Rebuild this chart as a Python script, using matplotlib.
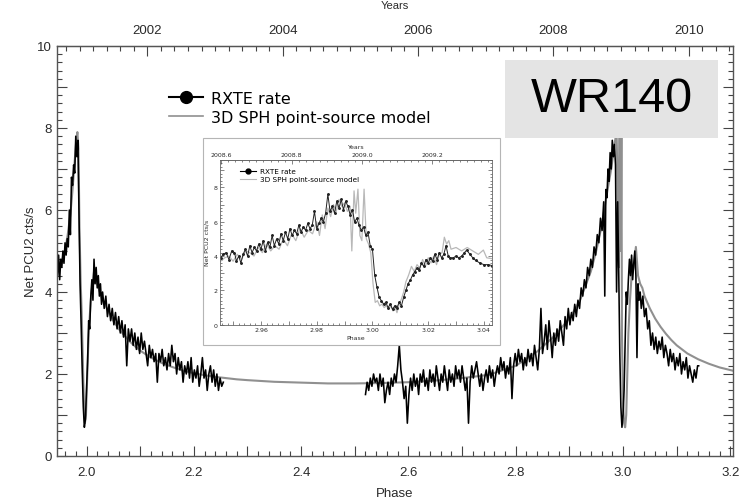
import matplotlib.pyplot as plt
import matplotlib.ticker as mticker
from matplotlib.patches import Rectangle
from matplotlib.lines import Line2D

# values
# RXTE rate, first stretch of the light curve (phase 1.95 - 2.26)
rxte_phase_a = [1.946, 1.948, 1.950, 1.952, 1.954, 1.956, 1.958, 1.960, 1.962, 1.964,
                1.966, 1.968, 1.970, 1.972, 1.974, 1.976, 1.978, 1.980, 1.982, 1.984,
                1.986, 1.988, 1.990, 1.992, 1.994, 1.996, 1.998, 2.000, 2.002, 2.004,
                2.006, 2.008, 2.010, 2.012, 2.014, 2.016, 2.018, 2.020, 2.022, 2.024,
                2.026, 2.028, 2.030, 2.033, 2.036, 2.039, 2.042, 2.045, 2.048, 2.051,
                2.054, 2.057, 2.060, 2.063, 2.066, 2.069, 2.072, 2.075, 2.078, 2.081,
                2.084, 2.087, 2.090, 2.093, 2.096, 2.099, 2.102, 2.105, 2.108, 2.111,
                2.114, 2.117, 2.120, 2.123, 2.126, 2.129, 2.132, 2.135, 2.138, 2.141,
                2.144, 2.147, 2.150, 2.153, 2.156, 2.159, 2.162, 2.165, 2.168, 2.171,
                2.174, 2.177, 2.180, 2.183, 2.186, 2.189, 2.192, 2.195, 2.198, 2.201,
                2.204, 2.207, 2.210, 2.213, 2.216, 2.219, 2.222, 2.225, 2.228, 2.231,
                2.234, 2.237, 2.240, 2.243, 2.246, 2.249, 2.252, 2.255]
rxte_rate_a = [4.4, 4.9, 4.3, 4.8, 4.6, 5.0, 4.7, 5.2, 4.9, 5.3,
               5.1, 6.0, 5.4, 6.8, 6.6, 7.1, 6.9, 7.8, 7.3, 7.7,
               5.9, 4.2, 3.2, 2.1, 1.2, 0.7, 0.9, 1.6, 2.3, 3.3,
               3.1, 3.9, 4.3, 3.8, 4.8, 4.2, 4.6, 4.1, 4.4, 3.9,
               4.2, 3.7, 4.0, 3.6, 3.9, 3.4, 3.7, 3.3, 3.6, 3.2,
               3.5, 3.1, 3.4, 3.0, 3.3, 2.9, 3.2, 2.2, 3.1, 2.8,
               3.1, 2.7, 3.0, 2.6, 2.9, 2.5, 3.0, 2.6, 2.8, 2.5,
               2.2, 2.7, 2.4, 2.6, 2.3, 2.5, 1.8, 2.5, 2.3, 2.6,
               2.2, 2.4, 2.1, 2.5, 2.2, 2.7, 2.3, 2.5, 2.0, 2.4,
               2.1, 2.3, 1.8, 2.2, 2.0, 2.3, 1.9, 2.4, 1.8, 2.1,
               1.9, 2.2, 1.7, 2.0, 2.4, 1.9, 2.1, 1.6, 2.0, 2.2,
               1.8, 2.1, 1.7, 2.0, 1.6, 1.9, 1.7, 1.8]

# RXTE rate, second stretch (phase 2.52 - 3.14)
rxte_phase_b = [2.520, 2.523, 2.526, 2.529, 2.532, 2.535, 2.538, 2.541, 2.544, 2.547,
                2.550, 2.553, 2.556, 2.559, 2.562, 2.565, 2.568, 2.571, 2.574, 2.577,
                2.580, 2.583, 2.586, 2.589, 2.592, 2.595, 2.598, 2.601, 2.604, 2.607,
                2.610, 2.613, 2.616, 2.619, 2.622, 2.625, 2.628, 2.631, 2.634, 2.637,
                2.640, 2.643, 2.646, 2.649, 2.652, 2.655, 2.658, 2.661, 2.664, 2.667,
                2.670, 2.673, 2.676, 2.679, 2.682, 2.685, 2.688, 2.691, 2.694, 2.697,
                2.700, 2.703, 2.706, 2.709, 2.712, 2.715, 2.718, 2.721, 2.724, 2.727,
                2.730, 2.733, 2.736, 2.739, 2.742, 2.745, 2.748, 2.751, 2.754, 2.757,
                2.760, 2.763, 2.766, 2.769, 2.772, 2.775, 2.778, 2.781, 2.784, 2.787,
                2.790, 2.793, 2.796, 2.799, 2.802, 2.805, 2.808, 2.811, 2.814, 2.817,
                2.820, 2.823, 2.826, 2.829, 2.832, 2.835, 2.838, 2.841, 2.844, 2.847,
                2.850, 2.853, 2.856, 2.859, 2.862, 2.865, 2.868, 2.871, 2.874, 2.877,
                2.880, 2.883, 2.886, 2.889, 2.892, 2.895, 2.898, 2.901, 2.904, 2.907,
                2.910, 2.913, 2.916, 2.919, 2.922, 2.925, 2.928, 2.931, 2.934, 2.937,
                2.940, 2.943, 2.946, 2.949, 2.952, 2.955, 2.958, 2.961, 2.964, 2.966,
                2.968, 2.970, 2.972, 2.974, 2.976, 2.978, 2.980, 2.982, 2.984, 2.986,
                2.988, 2.990, 2.992, 2.994, 2.996, 2.998, 3.000, 3.002, 3.004, 3.006,
                3.008, 3.010, 3.012, 3.014, 3.016, 3.018, 3.020, 3.022, 3.024, 3.026,
                3.028, 3.030, 3.032, 3.034, 3.037, 3.040, 3.043, 3.046, 3.049, 3.052,
                3.055, 3.058, 3.061, 3.064, 3.067, 3.070, 3.073, 3.076, 3.079, 3.082,
                3.085, 3.088, 3.091, 3.094, 3.097, 3.100, 3.103, 3.106, 3.109, 3.112,
                3.115, 3.118, 3.121, 3.124, 3.127, 3.130, 3.133, 3.136, 3.139, 3.141]
rxte_rate_b = [1.5, 1.8, 1.6, 1.9, 1.7, 2.0, 1.8, 1.9, 1.6, 2.0,
               1.7, 1.9, 1.3, 1.6, 1.8, 1.5, 1.9, 1.7, 2.0, 1.8,
               2.2, 2.7, 2.1, 1.8, 1.4, 1.7, 0.8, 1.5, 1.9, 1.6,
               2.0, 1.7, 1.9, 1.5, 2.0, 1.8, 2.1, 1.7, 1.9, 1.6,
               2.1, 1.8, 2.0, 1.7, 2.2, 1.9, 1.6, 2.0, 1.8, 2.2,
               1.9, 1.6, 2.1, 1.8, 2.0, 1.7, 2.2, 1.9, 2.1, 1.8,
               2.2, 1.9, 1.6, 1.9, 0.8, 1.8, 2.2, 1.9, 2.1, 2.3,
               2.0, 1.7, 2.0, 1.6, 1.9, 2.1, 1.8, 2.2, 1.9, 2.1,
               1.7, 2.0, 2.2, 2.0, 2.4, 2.1, 2.3, 1.9, 2.2, 2.0,
               2.4, 1.4, 2.2, 2.5, 2.2, 2.6, 2.3, 2.5, 2.1, 2.4,
               2.2, 2.6, 2.3, 2.5, 2.2, 2.7, 2.4, 2.1, 2.6, 3.6,
               2.5, 2.8, 3.2, 2.6, 3.3, 2.9, 2.4, 3.0, 2.7, 3.1,
               2.8, 3.3, 3.0, 2.7, 3.4, 3.1, 3.6, 3.2, 3.5, 3.3,
               3.7, 3.4, 3.8, 3.6, 4.1, 3.9, 4.3, 4.1, 4.6, 4.4,
               4.8, 4.6, 5.1, 4.9, 5.4, 5.2, 5.8, 5.5, 6.2, 3.9,
               6.5, 6.3, 7.0, 6.7, 7.4, 7.0, 7.7, 7.3, 7.6, 7.1,
               4.0, 6.2, 4.5, 2.5, 1.2, 0.7, 1.0, 1.6, 2.8, 4.0,
               3.7, 4.3, 4.8, 4.4, 4.9, 4.3, 4.7, 5.0, 4.4, 2.4,
               4.2, 3.8, 4.0, 3.6, 3.9, 3.4, 3.6, 3.1, 3.3, 2.7,
               3.0, 2.6, 2.9, 2.5, 2.8, 2.6, 2.9, 2.4, 2.7, 2.5,
               2.2, 2.6, 2.3, 2.5, 2.1, 2.4, 2.2, 2.5, 2.0, 2.3,
               2.1, 2.4, 1.9, 2.2, 2.0, 1.8, 2.1, 1.9, 2.2, 2.2]

# 3D SPH point-source model, full range
model_phase = [1.946, 1.950, 1.955, 1.960, 1.965, 1.970, 1.974, 1.978, 1.981, 1.983,
               1.985, 1.987, 1.989, 1.991, 1.993, 1.995, 1.997, 1.999, 2.001, 2.003,
               2.005, 2.008, 2.011, 2.014, 2.017, 2.020, 2.025, 2.030, 2.040, 2.050,
               2.060, 2.070, 2.080, 2.090, 2.100, 2.120, 2.140, 2.160, 2.180, 2.200,
               2.220, 2.240, 2.260, 2.280, 2.300, 2.350, 2.400, 2.450, 2.500, 2.550,
               2.600, 2.650, 2.700, 2.750, 2.800, 2.840, 2.870, 2.900, 2.920, 2.940,
               2.950, 2.960, 2.970, 2.978, 2.984, 2.988, 2.990, 2.992, 2.993, 2.995,
               2.996, 2.997, 2.998, 3.000, 3.002, 3.004, 3.006, 3.008, 3.010, 3.013,
               3.016, 3.020, 3.024, 3.028, 3.032, 3.036, 3.040, 3.050, 3.060, 3.070,
               3.080, 3.090, 3.100, 3.120, 3.140, 3.160, 3.180, 3.205]
model_rate = [4.5, 4.6, 4.8, 5.0, 5.4, 5.9, 6.5, 7.2, 7.7, 7.9,
              7.5, 5.5, 4.3, 3.5, 2.4, 1.4, 0.8, 1.0, 1.8, 2.6,
              3.2, 3.8, 4.2, 4.5, 4.4, 4.2, 4.0, 3.8, 3.55, 3.3,
              3.1, 2.95, 2.8, 2.68, 2.57, 2.4, 2.27, 2.17, 2.08, 2.02,
              1.97, 1.93, 1.9, 1.87, 1.85, 1.81, 1.79, 1.77, 1.77, 1.78,
              1.8, 1.84, 1.9, 1.98, 2.2, 2.55, 2.9, 3.35, 3.8, 4.5,
              5.0, 5.6, 6.4, 7.0, 7.6, 7.9, 6.4, 4.6, 7.9, 8.5,
              5.0, 8.3, 3.0, 1.3, 0.8, 0.7, 1.0, 2.0, 3.0, 3.8,
              4.4, 4.6, 5.1, 4.4, 4.2, 4.1, 3.9, 3.6, 3.35, 3.15,
              2.98, 2.83, 2.7, 2.5, 2.36, 2.25, 2.16, 2.08]

# inset: zoom on the 2009 periastron passage
inset_rxte_phase = [2.9455, 2.9465, 2.9475, 2.9485, 2.9495, 2.9505, 2.9512, 2.9520, 2.9528, 2.9536,
                    2.9544, 2.9552, 2.9560, 2.9568, 2.9576, 2.9584, 2.9592, 2.9600, 2.9608, 2.9616,
                    2.9624, 2.9632, 2.9640, 2.9648, 2.9656, 2.9664, 2.9672, 2.9680, 2.9688, 2.9696,
                    2.9704, 2.9712, 2.9720, 2.9728, 2.9736, 2.9744, 2.9752, 2.9760, 2.9768, 2.9776,
                    2.9784, 2.9792, 2.9800, 2.9808, 2.9816, 2.9824, 2.9832, 2.9840, 2.9848, 2.9856,
                    2.9864, 2.9872, 2.9880, 2.9888, 2.9896, 2.9904, 2.9912, 2.9920, 2.9928, 2.9936,
                    2.9944, 2.9952, 2.9960, 2.9968, 2.9976, 2.9984, 2.9992, 3.0000, 3.0008, 3.0016,
                    3.0024, 3.0032, 3.0040, 3.0048, 3.0056, 3.0064, 3.0072, 3.0080, 3.0088, 3.0096,
                    3.0104, 3.0112, 3.0120, 3.0128, 3.0136, 3.0144, 3.0152, 3.0160, 3.0168, 3.0176,
                    3.0184, 3.0192, 3.0200, 3.0208, 3.0216, 3.0224, 3.0232, 3.0240, 3.0248, 3.0256,
                    3.0264, 3.0272, 3.0280, 3.0290, 3.0300, 3.0310, 3.0320, 3.0330, 3.0338, 3.0350,
                    3.0360, 3.0370, 3.0385, 3.0400, 3.0415, 3.0429]
inset_rxte_rate = [3.9, 4.1, 4.2, 3.8, 4.3, 4.2, 3.7, 4.0, 3.6, 4.1,
                   4.4, 4.0, 4.6, 4.2, 4.5, 4.3, 4.7, 4.4, 4.9, 4.3,
                   4.8, 4.5, 5.2, 4.6, 5.0, 4.7, 5.3, 4.9, 5.4, 5.0,
                   5.6, 5.2, 5.5, 5.3, 5.8, 5.4, 5.7, 5.5, 5.9, 5.6,
                   5.8, 6.6, 5.6, 5.9, 6.2, 6.0, 6.5, 7.6, 6.6, 6.9,
                   6.5, 7.2, 6.8, 7.3, 6.7, 7.2, 6.9, 6.4, 6.7, 6.0,
                   6.2, 5.8, 5.5, 5.7, 5.2, 5.4, 4.6, 4.4, 2.9, 2.2,
                   1.6, 1.4, 1.2, 1.3, 1.0, 1.2, 0.9, 1.1, 1.0, 1.3,
                   1.1, 1.6, 2.0, 2.4, 2.6, 2.9, 3.1, 3.3, 3.2, 3.6,
                   3.4, 3.8, 3.6, 3.9, 3.7, 4.1, 3.8, 4.2, 3.9, 4.1,
                   4.6, 4.0, 3.9, 3.9, 4.0, 3.9, 4.0, 4.2, 4.35, 4.1,
                   3.9, 3.75, 3.6, 3.5, 3.5, 3.45]

inset_model_phase = [2.9455, 2.9470, 2.9485, 2.9500, 2.9515, 2.9530, 2.9545, 2.9560, 2.9575, 2.9590,
                     2.9605, 2.9620, 2.9635, 2.9650, 2.9665, 2.9680, 2.9695, 2.9710, 2.9725, 2.9740,
                     2.9755, 2.9770, 2.9785, 2.9800, 2.9810, 2.9820, 2.9830, 2.9840, 2.9850, 2.9860,
                     2.9870, 2.9880, 2.9890, 2.9900, 2.9910, 2.9920, 2.9926, 2.9934, 2.9940, 2.9948,
                     2.9955, 2.9962, 2.9970, 2.9978, 2.9986, 2.9994, 3.0002, 3.0010, 3.0018, 3.0026,
                     3.0034, 3.0042, 3.0050, 3.0058, 3.0066, 3.0074, 3.0082, 3.0088, 3.0096, 3.0104,
                     3.0112, 3.0120, 3.0130, 3.0140, 3.0150, 3.0160, 3.0170, 3.0180, 3.0190, 3.0200,
                     3.0210, 3.0220, 3.0230, 3.0240, 3.0250, 3.0258, 3.0266, 3.0274, 3.0282, 3.0300,
                     3.0320, 3.0340, 3.0360, 3.0380, 3.0398, 3.0410, 3.0429]
inset_model_rate = [3.7, 3.9, 4.0, 3.7, 4.1, 3.8, 4.3, 4.2, 4.0, 4.5,
                    4.2, 4.7, 4.3, 4.6, 4.4, 5.0, 4.6, 5.3, 4.9, 5.6,
                    5.1, 5.5, 5.3, 6.0, 5.2, 6.4, 5.6, 6.8, 6.3, 7.0,
                    6.6, 7.3, 6.9, 7.1, 6.6, 6.9, 4.3, 7.8, 6.5, 7.9,
                    5.2, 4.9, 7.9, 5.0, 4.7, 4.2, 2.4, 1.3, 1.4, 1.1,
                    1.2, 1.0, 1.1, 0.9, 1.1, 0.8, 1.0, 0.7, 1.2, 1.5,
                    1.9, 2.5, 2.9, 3.4, 3.1, 3.5, 3.3, 3.8, 3.4, 3.9,
                    3.6, 4.0, 3.5, 4.1, 4.2, 5.1, 4.7, 4.9, 4.4, 4.5,
                    4.3, 4.5, 4.3, 4.1, 4.35, 3.9, 3.85]

main_year_ticks = [2002, 2004, 2006, 2008, 2010]
inset_year_ticks = [2008.6, 2008.8, 2009.0, 2009.2]

# phase <-> calendar year (period ~7.93 yr, periastron early 2009)
def phase_to_year(p):
    return 2009.03 + (p - 3.0) * 7.93


def year_to_phase(y):
    return 3.0 + (y - 2009.03) / 7.93


W, H = 744, 502
sans = ['Liberation Sans', 'DejaVu Sans']
txt = '#2a2a2a'

fig = plt.figure(figsize=(W / 100, H / 100), dpi=100)

# ---------------- main panel ----------------
ax = fig.add_axes([57 / W, 1 - 457 / H, 676 / W, 410 / H])
ax.plot(model_phase, model_rate, color='#909090', lw=1.5)
ax.plot(rxte_phase_a, rxte_rate_a, color='black', lw=1.15)
ax.plot(rxte_phase_b, rxte_rate_b, color='black', lw=1.15)
ax.set_xlim(1.945, 3.205)
ax.set_ylim(0, 10)

ax.xaxis.set_major_locator(mticker.MultipleLocator(0.1))
ax.xaxis.set_minor_locator(mticker.MultipleLocator(0.02))
ax.xaxis.set_major_formatter(mticker.FuncFormatter(
    lambda v, p: f'{v:.1f}' if round(v * 10) % 2 == 0 else ''))
ax.yaxis.set_major_locator(mticker.MultipleLocator(1))
ax.yaxis.set_minor_locator(mticker.MultipleLocator(0.2))
ax.yaxis.set_major_formatter(mticker.FuncFormatter(
    lambda v, p: f'{v:.0f}' if round(v) % 2 == 0 else ''))
ax.tick_params(which='both', direction='in', top=False, right=True,
               color='#444444', width=0.8, labelsize=9.5, labelcolor=txt)
ax.tick_params(which='major', length=7)
ax.tick_params(which='minor', length=3.5)
ax.tick_params(axis='x', pad=7)
for lab in ax.get_xticklabels() + ax.get_yticklabels():
    lab.set_family(sans)
for s in ax.spines.values():
    s.set_color('#555555')
    s.set_linewidth(1.0)

ax.set_xlabel('Phase', family=sans, fontsize=9.5, color=txt, labelpad=7)
ax.set_ylabel('Net PCU2 cts/s', family=sans, fontsize=9.5, color=txt, labelpad=0)

top = ax.secondary_xaxis('top', functions=(phase_to_year, year_to_phase))
top.set_xticks(main_year_ticks)
top.xaxis.set_minor_locator(mticker.MultipleLocator(0.2))
top.tick_params(which='both', direction='in', color='#444444', width=0.8,
                labelsize=9.5, labelcolor=txt, pad=7)
top.tick_params(which='major', length=7)
top.tick_params(which='minor', length=3.5)
for lab in top.get_xticklabels():
    lab.set_family(sans)
top.spines['top'].set_color('#555555')
fig.text(395 / W, 1 - 1 / H, 'Years', ha='center', va='top',
         family=sans, fontsize=8, color=txt)

handles = [Line2D([], [], color='black', lw=1.5, marker='o', ms=8.5),
           Line2D([], [], color='#909090', lw=1.2)]
ax.legend(handles, ['RXTE rate', '3D SPH point-source model'],
          loc='upper left', bbox_to_anchor=(169 / W, 1 - 92 / H),
          bbox_transform=fig.transFigure, frameon=False, fontsize=11.5,
          handlelength=2.1, handletextpad=0.55, labelspacing=0.25,
          borderpad=0, borderaxespad=0)

# WR140 label box
fig.add_artist(Rectangle((505 / W, 1 - 139 / H), 213 / W, 78 / H,
                         transform=fig.transFigure, facecolor='#e4e4e4',
                         edgecolor='none', zorder=5))
fig.text(612 / W, 1 - 100 / H, 'WR140', ha='center', va='center',
         family='Liberation Sans', fontsize=35, color='black', zorder=6)

# ---------------- inset panel ----------------
fig.add_artist(Rectangle((203 / W, 1 - 346 / H), 297 / W, 207 / H,
                         transform=fig.transFigure, facecolor='white',
                         edgecolor='#b5b5b5', lw=0.8, zorder=3))
ins = fig.add_axes([220 / W, 1 - 325.7 / H, 272 / W, 164.7 / H])
ins.set_zorder(4)
ins.plot(inset_model_phase, inset_model_rate, color='#b8b8b8', lw=0.9)
ins.plot(inset_rxte_phase, inset_rxte_rate, color='#222222', lw=0.7,
         marker='o', ms=1.1)
ins.set_xlim(2.9453, 3.0429)
ins.set_ylim(0, 9.6)

ins.xaxis.set_major_locator(mticker.MultipleLocator(0.01))
ins.xaxis.set_minor_locator(mticker.MultipleLocator(0.002))
ins.xaxis.set_major_formatter(mticker.FuncFormatter(
    lambda v, p: f'{v:.2f}' if round(v * 100) % 2 == 0 else ''))
ins.yaxis.set_major_locator(mticker.MultipleLocator(1))
ins.yaxis.set_minor_locator(mticker.MultipleLocator(0.2))
ins.yaxis.set_major_formatter(mticker.FuncFormatter(
    lambda v, p: f'{v:.0f}' if round(v) % 2 == 0 else ''))
ins.tick_params(which='both', direction='in', top=False, right=True,
                color='#555555', width=0.5, labelsize=4.5, labelcolor=txt, pad=2)
ins.tick_params(which='major', length=3)
ins.tick_params(which='minor', length=1.5)
for s in ins.spines.values():
    s.set_color('#666666')
    s.set_linewidth(0.6)
ins.set_xlabel('Phase', fontsize=4.5, color=txt, labelpad=2)
ins.set_ylabel('Net PCU2 cts/s', fontsize=4.5, color=txt, labelpad=3)

itop = ins.secondary_xaxis('top', functions=(phase_to_year, year_to_phase))
itop.set_xticks(inset_year_ticks)
itop.xaxis.set_major_formatter(mticker.FormatStrFormatter('%.1f'))
itop.xaxis.set_minor_locator(mticker.MultipleLocator(0.02))
itop.tick_params(which='both', direction='in', color='#555555', width=0.5,
                 labelsize=4.5, labelcolor=txt, pad=2)
itop.tick_params(which='major', length=3)
itop.tick_params(which='minor', length=1.5)
itop.spines['top'].set_color('#666666')
itop.spines['top'].set_linewidth(0.6)
itop.set_xlabel('Years', fontsize=4.5, color=txt, labelpad=3)

ihandles = [Line2D([], [], color='black', lw=0.8, marker='o', ms=3.5),
            Line2D([], [], color='#b8b8b8', lw=0.8)]
ins.legend(ihandles, ['RXTE rate', '3D SPH point-source model'],
           loc='upper left', bbox_to_anchor=(240 / W, 1 - 169 / H),
           bbox_transform=fig.transFigure, frameon=False, fontsize=5.2,
           handlelength=2.2, handletextpad=0.6, labelspacing=0.3,
           borderpad=0, borderaxespad=0)

fig.savefig('out.png', dpi=100)
